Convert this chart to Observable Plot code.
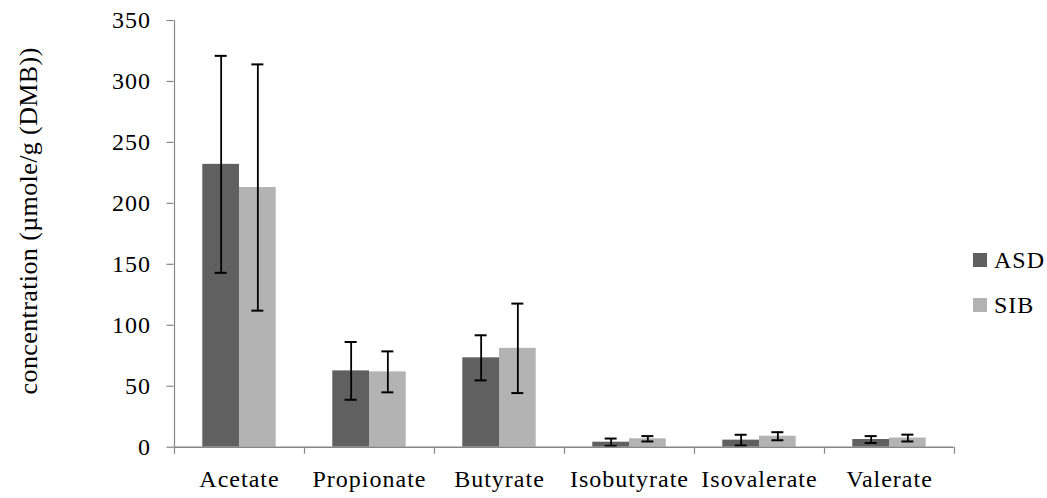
<!DOCTYPE html>
<html>
<head>
<meta charset="utf-8">
<script src="https://cdn.jsdelivr.net/npm/d3@7"></script>
<script src="https://cdn.jsdelivr.net/npm/@observablehq/plot@0.6"></script>
<style>
  html, body { margin: 0; padding: 0; background: #fff; }
  body { width: 1047px; height: 498px; overflow: hidden; position: relative;
         font-family: "Liberation Serif", "Times New Roman", serif; }
  #legend { position: absolute; left: 973px; top: 237px; font-size: 24px; color: #000; }
  #legend * { font-family: "Liberation Serif", "Times New Roman", serif !important; font-size: 24px !important; }
  #chart g[aria-label="x-axis tick label"] text,
  #chart g[aria-label="y-axis tick label"] text { letter-spacing: 1px; }
  #chart g[aria-label="text"] text { letter-spacing: 0.4px; }
  #legend { letter-spacing: 1px; }
</style>
</head>
<body>
<div id="chart"></div>
<div id="legend"></div>
<script>
// Short-chain fatty acids, mean ± SD per group (µmole/g dry matter basis)
const acids = ["Acetate", "Propionate", "Butyrate", "Isobutyrate", "Isovalerate", "Valerate"];
const groups = ["ASD", "SIB"];
const asdMean = [232, 62.6, 73.3, 4.1, 5.8, 6.3];
const asdSD   = [89, 23.7, 18.5, 3.0, 4.4, 2.8];
const sibMean = [213, 61.8, 81.1, 6.9, 9.0, 7.5];
const sibSD   = [101, 16.8, 36.7, 2.2, 3.3, 2.8];
const yTicks = [0, 50, 100, 150, 200, 250, 300, 350];
const groupColors = ["#606060", "#b3b3b3"];
const yLabel = "concentration (µmole/g (DMB))";

const rows = [];
acids.forEach((acid, i) => {
  rows.push({acid, group: "ASD", mean: asdMean[i], sd: asdSD[i]});
  rows.push({acid, group: "SIB", mean: sibMean[i], sd: sibSD[i]});
});

const width = 1047, height = 498;
const marginLeft = 173.5, marginRight = 93.5, marginTop = 20, marginBottom = 51.3;
const band = (width - marginLeft - marginRight) / acids.length; // one category slot
const barW = 36.7;                                               // width of one bar
const capW = 12;                                                 // error-bar cap width
const axisGray = "#868686";
const serif = "'Liberation Serif', 'Times New Roman', serif";

// per-group marks: bars side by side, centred in each category slot
const groupMarks = groups.flatMap((g, gi) => {
  const data = rows.filter(d => d.group === g);
  const dx = (gi - (groups.length - 1) / 2) * barW;
  return [
    Plot.barY(data, {
      x: "acid", y: "mean", fill: "group", dx,
      insetLeft: (band - barW) / 2, insetRight: (band - barW) / 2
    }),
    Plot.ruleX(data, {
      x: "acid", y1: d => d.mean - d.sd, y2: d => d.mean + d.sd, dx,
      stroke: "#000", strokeWidth: 1.8
    }),
    Plot.tickY(data, {
      x: "acid", y: d => d.mean + d.sd, dx,
      insetLeft: (band - capW) / 2, insetRight: (band - capW) / 2,
      stroke: "#000", strokeWidth: 2
    }),
    Plot.tickY(data, {
      x: "acid", y: d => d.mean - d.sd, dx,
      insetLeft: (band - capW) / 2, insetRight: (band - capW) / 2,
      stroke: "#000", strokeWidth: 2
    })
  ];
});

const chart = Plot.plot({
  width, height, marginLeft, marginRight, marginTop, marginBottom,
  style: {fontFamily: serif, fontSize: "24px", color: "#000", background: "#fff", overflow: "visible"},
  x: {type: "band", domain: acids, padding: 0, axis: null},
  y: {domain: [0, 350], axis: null},
  color: {domain: groups, range: groupColors},
  marks: [
    ...groupMarks,
    // value axis
    Plot.ruleX([acids[0]], {x: d => d, dx: -band / 2, y1: 0, y2: 350, stroke: axisGray, strokeWidth: 1.2}),
    Plot.axisY({ticks: yTicks, tickSize: 7, tickPadding: 16, label: null, stroke: axisGray, fill: "#000",
                strokeWidth: 1.2, fontSize: 24, fontFamily: serif}),
    // category axis: baseline, separators between categories, labels
    Plot.ruleY([0], {stroke: axisGray, strokeWidth: 1.5}),
    Plot.ruleX(acids, {x: d => d, dx: -band / 2, y1: 0, y2: 0, insetBottom: -7, stroke: axisGray, strokeWidth: 1.2}),
    Plot.ruleX([acids[acids.length - 1]], {x: d => d, dx: band / 2, y1: 0, y2: 0, insetBottom: -7, stroke: axisGray, strokeWidth: 1.2}),
    Plot.axisX({tickSize: 0, tickPadding: 23, label: null, fill: "#000", fontSize: 24, fontFamily: serif}),
    // axis title
    Plot.text([yLabel], {
      frameAnchor: "left", rotate: -90, dx: -145, dy: -13,
      textAnchor: "middle", lineAnchor: "middle", fontSize: 26, fontFamily: serif, fill: "#000"
    })
  ]
});
document.getElementById("chart").appendChild(chart);

// legend to the right of the plot
const legend = Plot.legend({
  color: {domain: groups, range: groupColors},
  legend: "swatches", columns: 1, swatchSize: 14
});
legend.style.margin = "0";
legend.style.minHeight = "0";
legend.style.fontFamily = serif;
legend.style.fontSize = "24px";
legend.querySelectorAll("div, span").forEach(el => {
  if (el.querySelector(":scope > svg")) {
    el.style.display = "flex";
    el.style.alignItems = "center";
    el.style.height = "45px";
    el.style.margin = "0";
    el.style.padding = "0";
    el.style.lineHeight = "1";
    el.style.fontFamily = serif;
    el.style.fontSize = "24px";
    el.style.whiteSpace = "nowrap";
    const svg = el.querySelector(":scope > svg");
    svg.style.marginRight = "7px";
    svg.style.flex = "none";
  }
});
document.getElementById("legend").appendChild(legend);
</script>
</body>
</html>
